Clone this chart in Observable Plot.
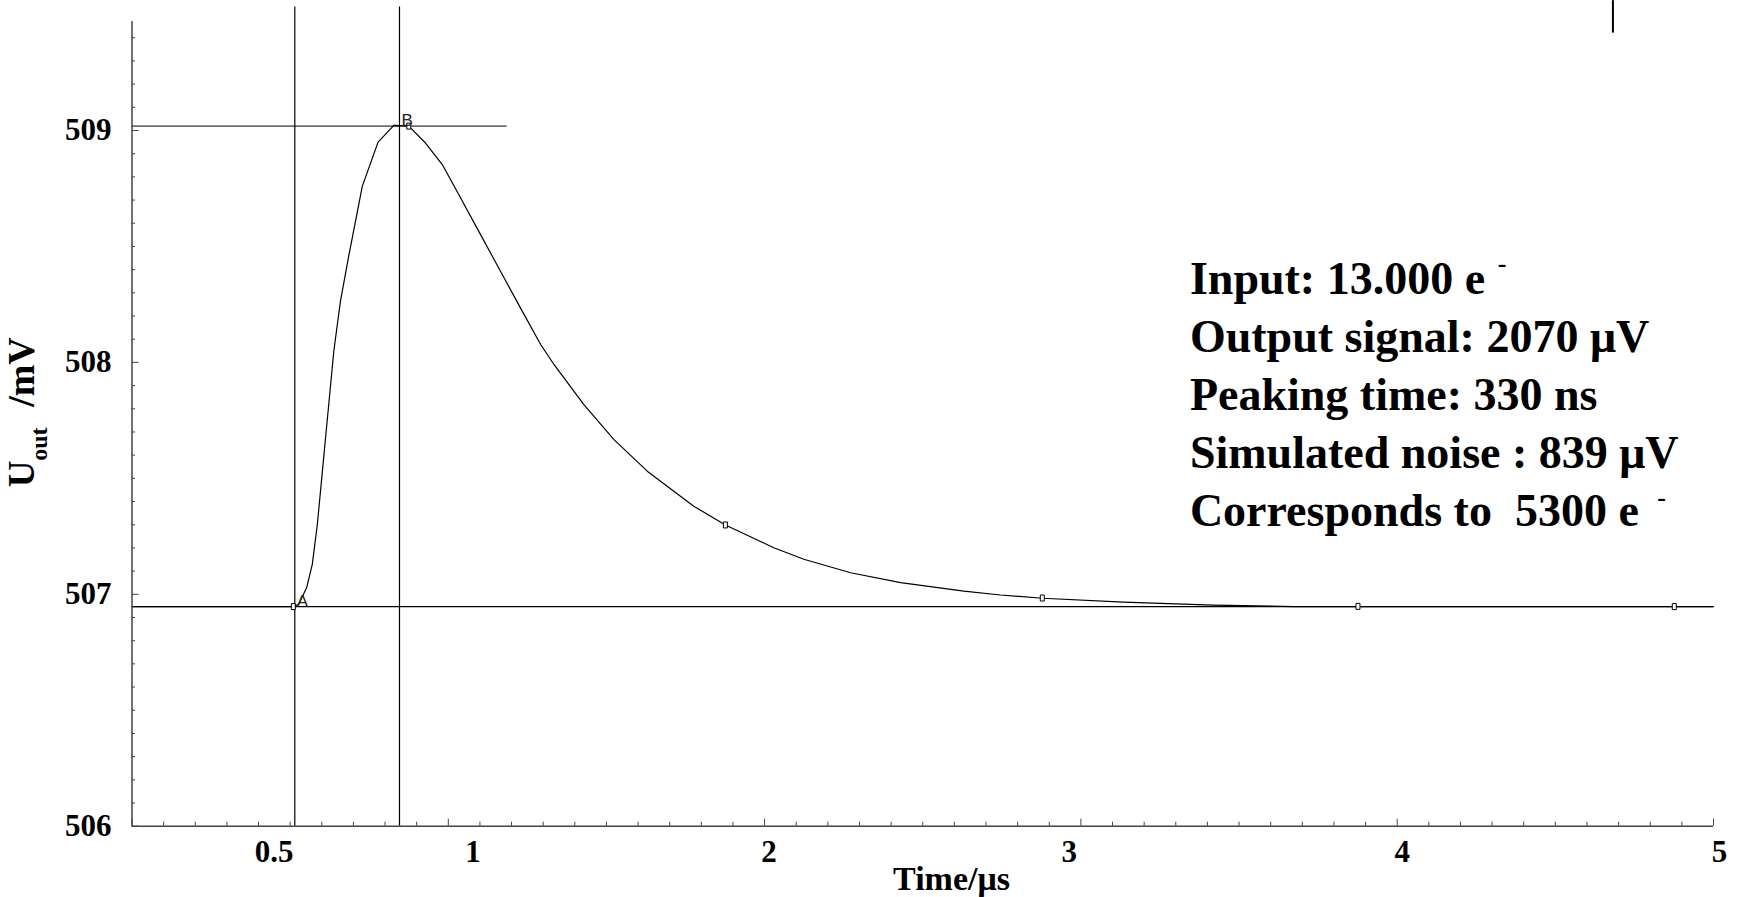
<!DOCTYPE html>
<html>
<head>
<meta charset="utf-8">
<script src="https://cdn.jsdelivr.net/npm/d3@7"></script>
<script src="https://cdn.jsdelivr.net/npm/@observablehq/plot@0.6"></script>
<style>
  html, body { margin: 0; padding: 0; background: #fff; }
  #chart svg { display: block; }
</style>
</head>
<body>
<div id="chart"></div>
<script>
// ---- data (time in µs, output voltage in mV) ----
const time = [0, 0.51, 0.527, 0.552, 0.570, 0.586, 0.601, 0.617, 0.638, 0.659, 0.684, 0.728, 0.778, 0.828, 0.875,
  0.928, 0.981, 1.039, 1.102, 1.165, 1.228, 1.292, 1.334, 1.428, 1.523, 1.629, 1.776, 1.876, 2.029, 2.124,
  2.272, 2.430, 2.630, 2.746, 2.879, 3.135, 3.418, 3.672, 5.0];
const uout = [506.947, 506.947, 506.957, 507.028, 507.129, 507.302, 507.517, 507.747, 508.048, 508.264, 508.450,
  508.759, 508.950, 509.022, 509.019, 508.946, 508.853, 508.709, 508.551, 508.393, 508.235, 508.077, 507.991,
  507.819, 507.668, 507.531, 507.380, 507.299, 507.201, 507.151, 507.093, 507.050, 507.014, 506.997, 506.983,
  506.966, 506.953, 506.947, 506.947];

const markerTime = [0.51, 0.875, 1.876, 2.878, 3.876, 4.876];
const markerU = [506.947, 509.019, 507.299, 506.984, 506.948, 506.947];

const cursorNames = ["A", "B"];
const cursorTime = [0.5147, 0.8457];
const cursorU = [506.947, 509.019];
const baselineU = 506.947;
const peakU = 509.019;
const peakLineEnd = 1.186;
const strayCursorTime = 4.682;

const yTickValues = [506, 507, 508, 509];
const yMinorTicks = d3.range(5061, 5095).map(d => d / 10).filter(d => !Number.isInteger(d));
const xMajorTicks = [0, 1, 2, 3, 4, 5];
const xMinorTicks = d3.range(1, 50).map(d => d / 10).filter(d => !Number.isInteger(d));
const xTickLabels = ["0.5", "1", "2", "3", "4", "5"];
const xTickLabelAt = [0.449, 1.078, 2.014, 2.963, 4.016, 5.019];

const infoLines = [
  "Input: 13.000 e",
  "Output signal: 2070 μV",
  "Peaking time: 330 ns",
  "Simulated noise : 839 μV",
  "Corresponds to \u00a05300 e"
];

// ---- tables built from the arrays ----
const curve = time.map((t, i) => ({t, u: uout[i]}));
const markers = markerTime.map((t, i) => ({t, u: markerU[i]}));
const cursors = cursorNames.map((name, i) => ({name, t: cursorTime[i], u: cursorU[i]}));

// ---- layout ----
const W = 1738, H = 897, mL = 131.5, mR = 25, mT = 21, mB = 71.3;
const frameW = W - mL - mR, frameH = H - mT - mB;

const serif = "'Liberation Serif', 'Times New Roman', Times, serif";
const axisColor = "#444";
const markerSymbol = {
  draw(ctx) { ctx.moveTo(-2, -3); ctx.lineTo(2, -3); ctx.lineTo(2, 3); ctx.lineTo(-2, 3); ctx.closePath(); }
};

const chart = Plot.plot({
  width: W,
  height: H,
  marginLeft: mL,
  marginRight: mR,
  marginTop: mT,
  marginBottom: mB,
  x: {domain: [0, 5], axis: null},
  y: {domain: [506, 509.47], axis: null},
  style: {fontFamily: serif, background: "white", color: "black", overflow: "visible"},
  marks: [
    // cursor lines
    Plot.ruleY([baselineU], {stroke: "black", strokeWidth: 1.2}),
    Plot.ruleY([peakU], {x1: 0, x2: peakLineEnd, stroke: "#6e6e6e", strokeWidth: 1.6}),
    Plot.ruleX(cursors, {x: "t", y1: 506, y2: 509.532, stroke: "black", strokeWidth: 1.2}),
    Plot.ruleX([strayCursorTime], {y1: 509.42, y2: 509.56, stroke: "black", strokeWidth: 2}),
    // signal
    Plot.line(curve, {x: "t", y: "u", stroke: "black", strokeWidth: 1.2}),
    Plot.dot(markers, {x: "t", y: "u", symbol: markerSymbol, fill: "white", stroke: "black", strokeWidth: 1}),
    Plot.text(cursors, {x: "t", y: "u", text: "name", dx: 2, textAnchor: "start", lineAnchor: "bottom",
      fontSize: 17, fontFamily: "'Liberation Sans', Arial, sans-serif", fill: "#222"}),
    // axes lines
    Plot.ruleX([0], {stroke: axisColor, strokeWidth: 1.5}),
    Plot.ruleY([506], {stroke: axisColor, strokeWidth: 1.5}),
    // inward ticks
    Plot.tickY(yMinorTicks, {y: d => d, insetRight: frameW - 3.5, stroke: axisColor}),
    Plot.tickY(yTickValues, {y: d => d, insetRight: frameW - 7, stroke: axisColor}),
    Plot.tickX(xMinorTicks, {x: d => d, insetTop: frameH - 4, stroke: axisColor}),
    Plot.tickX(xMajorTicks, {x: d => d, insetTop: frameH - 7, stroke: axisColor}),
    // tick labels
    Plot.text(yTickValues, {y: d => d, text: d => String(d), frameAnchor: "left", dx: -20.5, textAnchor: "end",
      fontSize: 31, fontWeight: "bold", fill: "black"}),
    Plot.text(xTickLabels, {x: xTickLabelAt, text: d => d, frameAnchor: "bottom", dy: 35.3, lineAnchor: "bottom",
      fontSize: 31, fontWeight: "bold", fill: "black"}),
    // axis titles
    Plot.text(["Time/μs"], {frameAnchor: "bottom", dx: 28.75, dy: 63.6, lineAnchor: "bottom", textAnchor: "middle",
      fontSize: 34, fontWeight: "bold", fill: "black"}),
    Plot.text(["U"], {frameAnchor: "left", dx: -98.2, dy: 63.35, rotate: -90, textAnchor: "start", lineAnchor: "bottom",
      fontSize: 37, fontWeight: "bold", fill: "black"}),
    Plot.text(["out"], {frameAnchor: "left", dx: -85, dy: 37, rotate: -90, textAnchor: "start", lineAnchor: "bottom",
      fontSize: 24, fontWeight: "bold", fill: "black"}),
    Plot.text(["/mV"], {frameAnchor: "left", dx: -98.2, dy: -86.65, rotate: -90, textAnchor: "end", lineAnchor: "bottom",
      fontSize: 38, fontWeight: "bold", fill: "black"}),
    // information block
    Plot.text([infoLines.join("\n")], {frameAnchor: "top-left", dx: 1057.9, dy: 504, textAnchor: "start",
      lineAnchor: "bottom", lineHeight: 1.259, fontSize: 46, fontWeight: "bold", fill: "black"}),
    Plot.text(["-"], {frameAnchor: "top-left", dx: 1370, dy: 232, textAnchor: "middle", fontSize: 26,
      fontWeight: "bold", fill: "black"}),
    Plot.text(["-"], {frameAnchor: "top-left", dx: 1529.5, dy: 466, textAnchor: "middle", fontSize: 26,
      fontWeight: "bold", fill: "black"})
  ]
});

document.getElementById("chart").appendChild(chart);
</script>
</body>
</html>
